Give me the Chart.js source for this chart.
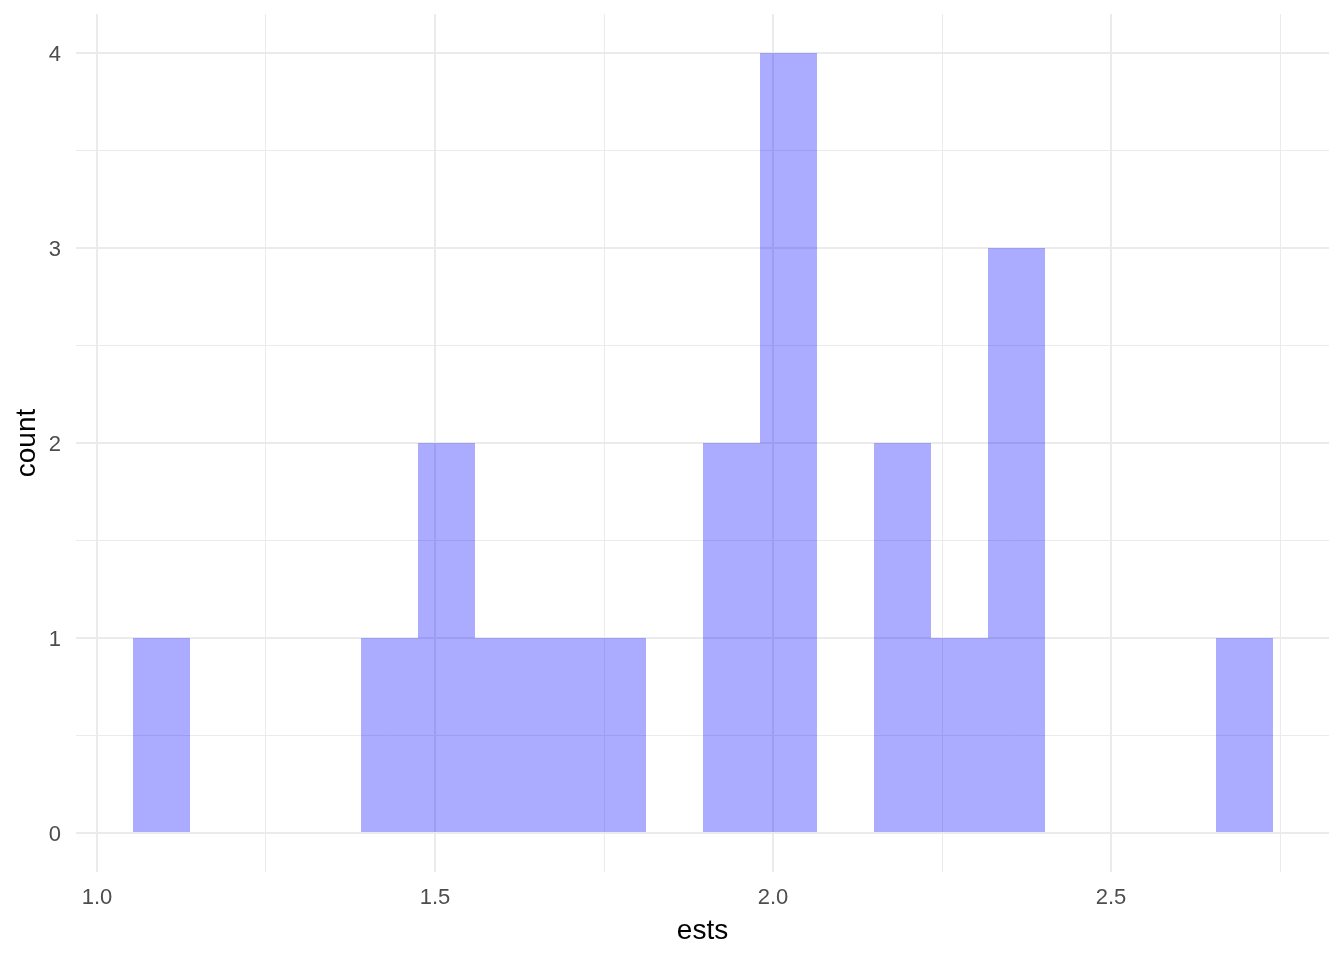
<!DOCTYPE html>
<html>
<head>
<meta charset="utf-8">
<script src="https://cdn.jsdelivr.net/npm/chart.js@4"></script>
<style>
  html, body { margin: 0; padding: 0; background: #fff; }
  #wrap { width: 1344px; height: 960px; position: relative; }
</style>
</head>
<body>
<div id="wrap"><canvas id="chart"></canvas></div>
<script>
// histogram bins (centres) and counts
const binCenters = [1.095414, 1.179734, 1.264053, 1.348373, 1.432692, 1.517012, 1.601331, 1.685651, 1.769970, 1.854290,
                    1.938609, 2.022929, 2.107248, 2.191568, 2.275888, 2.360207, 2.444527, 2.528846, 2.613166, 2.697485];
const counts = [1, 0, 0, 0, 1, 2, 1, 1, 1, 0,
                2, 4, 0, 2, 1, 3, 0, 0, 0, 1];

const xGrid = [1.0, 1.25, 1.5, 1.75, 2.0, 2.25, 2.5, 2.75];
const xLabels = [1.0, 1.5, 2.0, 2.5];
const yGrid = [0, 0.5, 1, 1.5, 2, 2.5, 3, 3.5, 4];
const yLabels = [0, 1, 2, 3, 4];

const FONT = "'Liberation Sans', Arial, sans-serif";
const isMajor = (list, v) => list.some(t => Math.abs(t - v) < 1e-9);

const gridStyle = (list) => ({
  color: '#EBEBEB',
  lineWidth: ctx => isMajor(list, ctx.tick.value) ? 2 : 1,
  drawTicks: false,
  offset: false
});

chart = new Chart(document.getElementById('chart'), {
  type: 'bar',
  data: {
    datasets: [{
      data: binCenters.map((x, i) => ({ x: x, y: counts[i] })),
      backgroundColor: 'rgba(0, 0, 255, 0.33)',
      borderWidth: 0,
      barPercentage: 1,
      categoryPercentage: 1,
      inflateAmount: 0
    }]
  },
  options: {
    responsive: true,
    maintainAspectRatio: false,
    animation: false,
    layout: { padding: { top: 14, right: 15, left: 0, bottom: 0 } },
    plugins: { legend: { display: false }, tooltip: { enabled: false } },
    scales: {
      x: {
        type: 'linear',
        min: 0.968935,
        max: 2.822485,
        offset: false,
        border: { display: false },
        grid: gridStyle(xLabels),
        afterBuildTicks: axis => { axis.ticks = xGrid.map(v => ({ value: v })); },
        afterFit: axis => {
          axis.height = 88;
          axis.paddingLeft = 0;
          axis.paddingRight = 0;
        },
        ticks: {
          autoSkip: false,
          maxRotation: 0,
          padding: 13,
          color: '#4D4D4D',
          font: { family: FONT, size: 22 },
          callback: v => isMajor(xLabels, v) ? v.toFixed(1) : ''
        },
        title: {
          display: true,
          text: 'ests',
          color: '#000',
          font: { family: FONT, size: 28 },
          padding: { top: 0, bottom: 12 }
        }
      },
      y: {
        min: -0.2,
        max: 4.2,
        border: { display: false },
        grid: gridStyle(yLabels),
        afterBuildTicks: axis => { axis.ticks = yGrid.map(v => ({ value: v })); },
        afterFit: axis => {
          axis.width = 76;
          axis.paddingTop = 0;
          axis.paddingBottom = 0;
        },
        ticks: {
          autoSkip: false,
          padding: 15,
          labelOffset: 2,
          color: '#4D4D4D',
          font: { family: FONT, size: 22 },
          callback: v => isMajor(yLabels, v) ? String(v) : ''
        },
        title: {
          display: true,
          text: 'count',
          color: '#000',
          font: { family: FONT, size: 28 },
          padding: { top: 10, bottom: 0 }
        }
      }
    }
  }
});
</script>
</body>
</html>
